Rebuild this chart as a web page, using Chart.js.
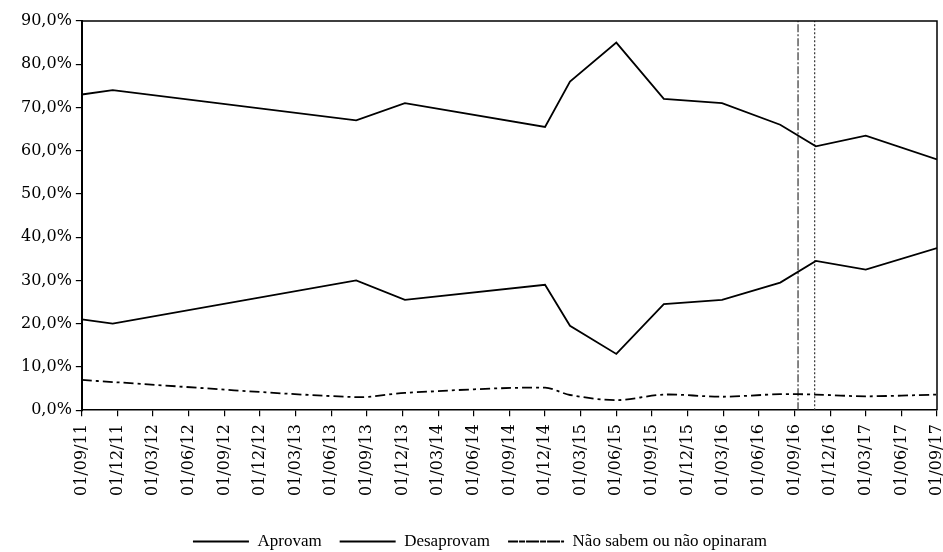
<!DOCTYPE html>
<html>
<head>
<meta charset="utf-8">
<script src="https://cdn.jsdelivr.net/npm/chart.js@4/dist/chart.umd.min.js"></script>
<style>
  body { margin: 0; background: #fff; }
</style>
</head>
<body>
<canvas id="chart" width="943" height="552"></canvas>
<script>
// Quarterly tick labels on the x axis (one every 3 months from 01/09/11)
const tickLabels = ['01/09/11', '01/12/11', '01/03/12', '01/06/12', '01/09/12', '01/12/12',
    '01/03/13', '01/06/13', '01/09/13', '01/12/13', '01/03/14', '01/06/14', '01/09/14',
    '01/12/14', '01/03/15', '01/06/15', '01/09/15', '01/12/15', '01/03/16', '01/06/16',
    '01/09/16', '01/12/16', '01/03/17', '01/06/17', '01/09/17'];

// Survey dates, in months after 01/09/11
const months = [0, 2.6, 23.1, 27.2, 39.0, 41.1, 45.0, 49.0, 53.9, 58.8, 61.8, 66.0, 72];

// Series (%)
const aprovam = [21, 20, 30, 25.5, 29, 19.5, 13, 24.5, 25.5, 29.5, 34.5, 32.5, 37.5];
const desaprovam = [73, 74, 67, 71, 65.5, 76, 85, 72, 71, 66, 61, 63.5, 58];
const naoSabem = [7, 6.5, 3, 4, 5.2, 3.5, 2.3, 3.6, 3.1, 3.7, 3.6, 3.2, 3.6];

// Vertical reference lines (months)
const markers = [60.3, 61.7];

const toPoints = values => values.map((v, i) => ({ x: months[i], y: v }));

const markerSets = markers.map((m, i) => ({
    label: 'marker' + i,
    data: [{ x: m, y: 0 }, { x: m, y: 90 }],
    borderColor: '#333',
    borderWidth: 1.2,
    borderDash: i === 0 ? [8, 2, 2, 2] : [2, 2],
    pointRadius: 0,
    fill: false,
}));

// Frame on top and right of the plot
const frame = {
    id: 'frame',
    afterDraw(chart) {
        const { ctx, chartArea: a } = chart;
        ctx.save();
        ctx.strokeStyle = '#000';
        ctx.lineWidth = 1.5;
        ctx.beginPath();
        ctx.moveTo(a.left, a.top);
        ctx.lineTo(a.right, a.top);
        ctx.lineTo(a.right, a.bottom);
        ctx.stroke();
        ctx.restore();
    }
};

const serif = "'DejaVu Serif', serif";

new Chart(document.getElementById('chart'), {
    type: 'line',
    data: {
        datasets: [
            {
                label: 'Aprovam',
                data: toPoints(aprovam),
                borderColor: '#000',
                backgroundColor: '#000',
                borderWidth: 1.8,
                pointRadius: 0,
                tension: 0,
            },
            {
                label: 'Desaprovam',
                data: toPoints(desaprovam),
                borderColor: '#000',
                backgroundColor: '#000',
                borderWidth: 1.8,
                pointRadius: 0,
                tension: 0,
            },
            {
                label: 'Não sabem ou não opinaram',
                data: toPoints(naoSabem),
                borderColor: '#000',
                backgroundColor: '#000',
                borderWidth: 1.8,
                borderDash: [10, 4, 3, 4],
                pointRadius: 0,
                tension: 0.3,
            },
            ...markerSets,
        ],
    },
    options: {
        responsive: false,
        animation: false,
        layout: { padding: { left: 17, top: 21, right: 0, bottom: -8 } },
        plugins: {
            tooltip: { enabled: false },
            legend: {
                position: 'bottom',
                labels: {
                    filter: item => !item.text.startsWith('marker'),
                    boxWidth: 56,
                    boxHeight: 0,
                    padding: 18,
                    color: '#000',
                    font: { family: "'Liberation Serif', serif", size: 17 },
                },
            },
        },
        scales: {
            x: {
                type: 'linear',
                min: 0,
                max: 72,
                afterFit(scale) {
                    scale.height += 11;
                    scale.paddingRight = 6;
                },
                ticks: {
                    stepSize: 3,
                    minRotation: 90,
                    maxRotation: 90,
                    padding: 8,
                    color: '#000',
                    font: { family: serif, size: 16 },
                    callback: v => tickLabels[Math.round(v / 3)],
                },
                grid: { drawOnChartArea: false, tickLength: 6, color: '#000', lineWidth: 1.2 },
                border: { color: '#000', width: 1.5 },
            },
            y: {
                min: 0,
                max: 90,
                ticks: {
                    stepSize: 10,
                    padding: 4,
                    color: '#000',
                    font: { family: serif, size: 16 },
                    callback: v => v.toFixed(1).replace('.', ',') + '%',
                },
                grid: { drawOnChartArea: false, tickLength: 6, color: '#000', lineWidth: 1.2 },
                border: { color: '#000', width: 2 },
            },
        },
    },
    plugins: [frame],
});
</script>
</body>
</html>
